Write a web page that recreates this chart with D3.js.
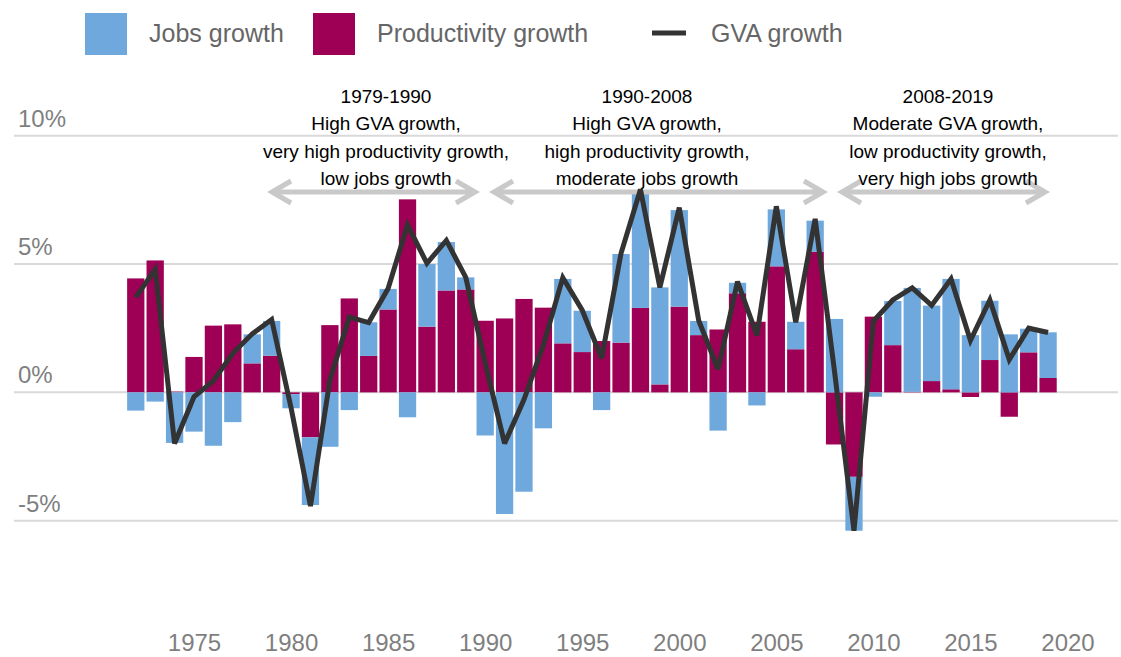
<!DOCTYPE html>
<html>
<head>
<meta charset="utf-8">
<script src="https://cdn.jsdelivr.net/npm/d3@7"></script>
<style>
  body { margin: 0; background: #fff; }
  svg { display: block; font-family: "Liberation Sans", Arial, sans-serif; }
</style>
</head>
<body>
<div id="chart"></div>
<script>
// years shown on the chart, one bar per year
var years = d3.range(1972, 2020);

// productivity growth, % per year
var prodGrowth = [4.44, 5.14, 0.03, 1.38, 2.60, 2.65, 1.13, 1.43, -0.07, -1.75,
	2.62, 3.66, 1.42, 3.23, 7.52, 2.56, 3.97, 4.01, 2.79, 2.88,
	3.64, 3.30, 1.91, 1.57, 2.00, 1.94, 3.29, 0.31, 3.34, 2.23,
	2.45, 3.86, 2.75, 4.91, 1.68, 5.48, -2.03, -3.29, 2.95, 1.84,
	0.02, 0.44, 0.12, -0.18, 1.26, -0.95, 1.56, 0.56];

// jobs growth, % per year
var jobsGrowth = [-0.71, -0.36, -1.97, -1.53, -2.08, -1.16, 1.13, 1.35, -0.55, -2.64,
	-2.12, -0.69, 1.31, 0.80, -0.97, 2.44, 1.89, 0.47, -1.68, -4.74,
	-3.87, -1.40, 2.51, 1.61, -0.69, 3.45, 4.53, 3.78, 3.76, 0.55,
	-1.49, 0.41, -0.51, 2.22, 1.07, 1.21, 2.86, -2.10, -0.17, 1.72,
	4.05, 2.94, 4.30, 2.23, 2.31, 2.26, 0.92, 1.78];

// GVA growth (line)
var gvaGrowth = [3.70, 4.79, -1.99, -0.17, 0.45, 1.52, 2.28, 2.84, -0.60, -4.43,
	0.48, 2.93, 2.72, 4.05, 6.52, 5.03, 5.92, 4.48, 1.15, -1.99,
	-0.28, 1.85, 4.47, 3.20, 1.33, 5.42, 7.90, 4.09, 7.20, 2.80,
	0.90, 4.32, 2.22, 7.25, 2.73, 6.76, 0.80, -5.39, 2.78, 3.60,
	4.07, 3.39, 4.42, 2.02, 3.60, 1.28, 2.50, 2.33];

var yTicks = [-5, 0, 5, 10];
var yTickLabels = ["-5%", "0%", "5%", "10%"];
var xTicks = [1975, 1980, 1985, 1990, 1995, 2000, 2005, 2010, 2015, 2020];

var legendLabels = ["Jobs growth", "Productivity growth", "GVA growth"];

var periods = [
	{from: 1979, to: 1990, lines: ["1979-1990", "High GVA growth,", "very high productivity growth,", "low jobs growth"]},
	{from: 1990, to: 2008, lines: ["1990-2008", "High GVA growth,", "high productivity growth,", "moderate jobs growth"]},
	{from: 2008, to: 2019, lines: ["2008-2019", "Moderate GVA growth,", "low productivity growth,", "very high jobs growth"]}
];

var width = 1121, height = 657;
var colJobs = "#6fa8dc", colProd = "#9e0055", colLine = "#333333";

var svg = d3.select("#chart").append("svg")
	.attr("width", width)
	.attr("height", height);

var x = d3.scaleLinear().domain([1975, 2020]).range([194, 1067.5]);
var y = d3.scaleLinear().domain([-5, 10]).range([520.7, 135.7]);
var step = x(1976) - x(1975);
var bw = step * 0.89;

// grid lines + y labels
var grid = svg.append("g");
grid.selectAll("line").data(yTicks).enter().append("line")
	.attr("x1", 14).attr("x2", 1118)
	.attr("y1", function(d){ return y(d); })
	.attr("y2", function(d){ return y(d); })
	.attr("stroke", "#d9d9d9")
	.attr("stroke-width", 2);
grid.selectAll("text").data(yTicks).enter().append("text")
	.attr("x", 18)
	.attr("y", function(d){ return y(d) - 9; })
	.attr("font-size", 24)
	.attr("fill", "#7f7f7f")
	.text(function(d, i){ return yTickLabels[i]; });

// x axis, labels only
var xAxis = d3.axisBottom(x).tickValues(xTicks).tickSize(0).tickFormat(d3.format("d"));
var gx = svg.append("g").attr("transform", "translate(0,631)").call(xAxis);
gx.select(".domain").remove();
gx.selectAll("text")
	.attr("font-size", 24)
	.attr("font-family", "Liberation Sans, Arial, sans-serif")
	.attr("fill", "#7f7f7f");

// stacked bars, productivity nearest to zero
var rows = years.map(function(yr, i){
	return {year: yr, prod: prodGrowth[i], jobs: jobsGrowth[i]};
});
var stack = d3.stack().keys(["prod", "jobs"]).offset(d3.stackOffsetDiverging);
var series = stack(rows);
var colors = {prod: colProd, jobs: colJobs};

svg.append("g").selectAll("g").data(series).enter().append("g")
	.attr("fill", function(d){ return colors[d.key]; })
	.selectAll("rect").data(function(d){ return d; }).enter().append("rect")
	.attr("x", function(d){ return x(d.data.year) - bw/2; })
	.attr("width", bw)
	.attr("y", function(d){ return y(Math.max(d[0], d[1])); })
	.attr("height", function(d){ return Math.abs(y(d[0]) - y(d[1])); });

// period arrows
var arrowY = 192;
var arrowEnds = [[270, 477], [492, 825], [840, 1047]];
var ag = svg.append("g")
	.attr("stroke", "#c9c9c9")
	.attr("stroke-width", 5)
	.attr("fill", "none");
arrowEnds.forEach(function(a){
	ag.append("line").attr("x1", a[0] + 2).attr("x2", a[1] - 2)
		.attr("y1", arrowY).attr("y2", arrowY);
	ag.append("path").attr("d", "M" + (a[0] + 21) + "," + (arrowY - 11) + "L" + (a[0] + 2) + "," + arrowY + "L" + (a[0] + 21) + "," + (arrowY + 11));
	ag.append("path").attr("d", "M" + (a[1] - 21) + "," + (arrowY - 11) + "L" + (a[1] - 2) + "," + arrowY + "L" + (a[1] - 21) + "," + (arrowY + 11));
});

// period text
var textCx = [386, 647, 948];
periods.forEach(function(p, i){
	var t = svg.append("text")
		.attr("text-anchor", "middle")
		.attr("font-size", 19)
		.attr("fill", "#000");
	p.lines.forEach(function(l, j){
		t.append("tspan").attr("x", textCx[i]).attr("y", 103 + j * 27.3).text(l);
	});
});

// GVA line
var line = d3.line()
	.x(function(d, i){ return x(years[i]); })
	.y(function(d){ return y(d); });
svg.append("path")
	.datum(gvaGrowth)
	.attr("d", line)
	.attr("fill", "none")
	.attr("stroke", colLine)
	.attr("stroke-width", 5)
	.attr("stroke-linejoin", "miter")
	.attr("stroke-miterlimit", 3);

// legend
var lg = svg.append("g");
lg.append("rect").attr("x", 85).attr("y", 13).attr("width", 42).attr("height", 42).attr("fill", colJobs);
lg.append("rect").attr("x", 313).attr("y", 13).attr("width", 42).attr("height", 42).attr("fill", colProd);
lg.append("line").attr("x1", 652).attr("x2", 686).attr("y1", 33).attr("y2", 33)
	.attr("stroke", colLine).attr("stroke-width", 5);
var legX = [149, 377, 711];
lg.selectAll("text").data(legendLabels).enter().append("text")
	.attr("x", function(d, i){ return legX[i]; })
	.attr("y", 42)
	.attr("font-size", 25)
	.attr("fill", "#666")
	.text(function(d){ return d; });
</script>
</body>
</html>
